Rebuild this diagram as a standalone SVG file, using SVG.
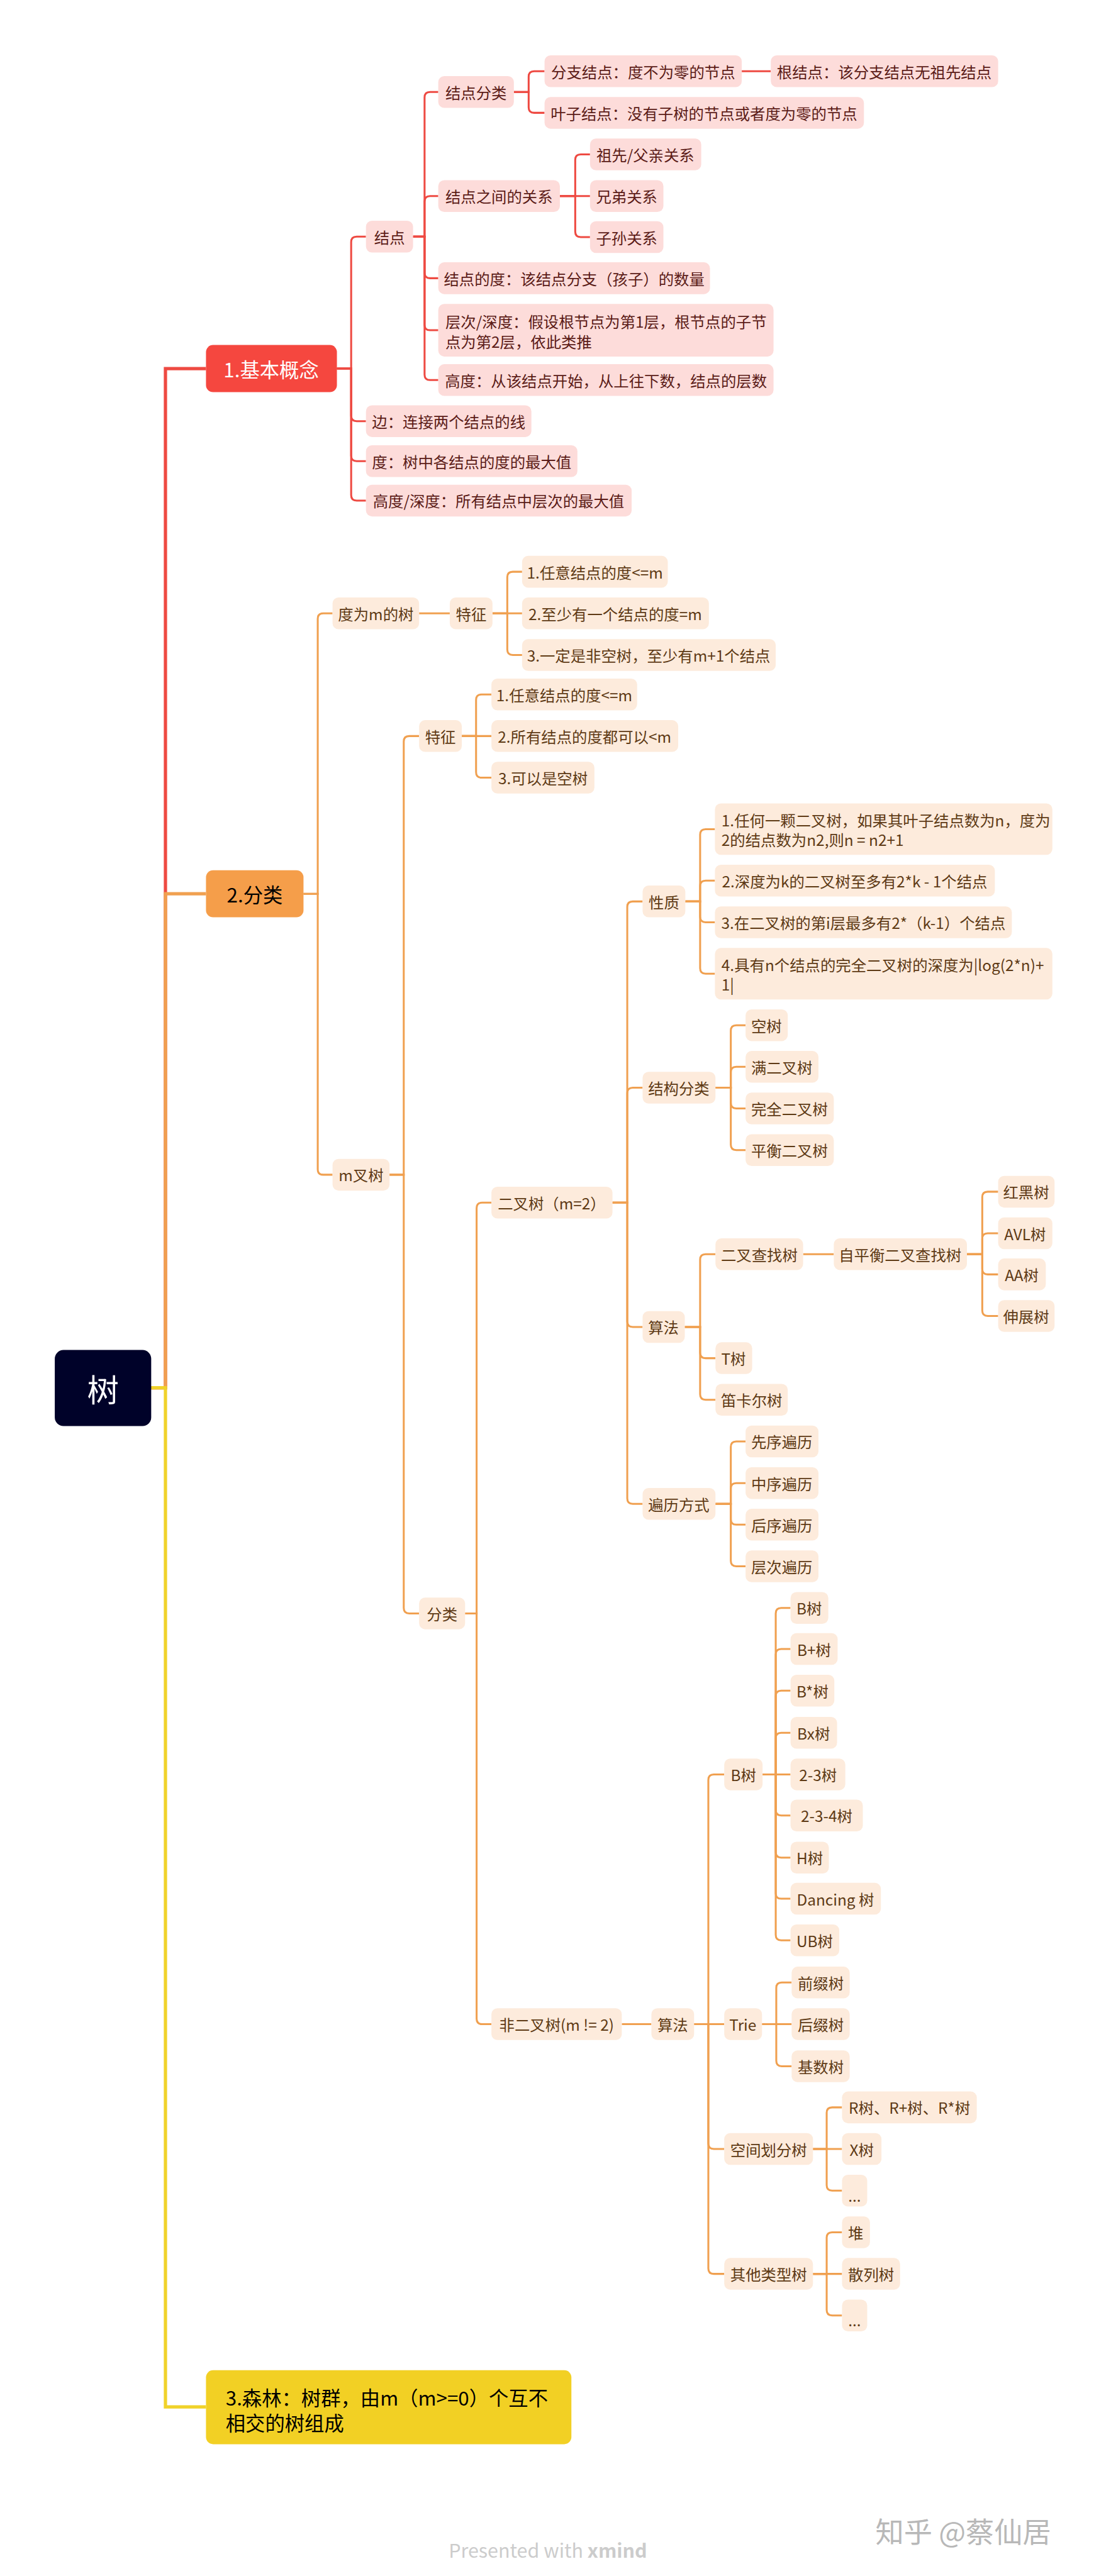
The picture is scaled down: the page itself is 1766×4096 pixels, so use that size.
<svg xmlns="http://www.w3.org/2000/svg" width="1766" height="4096" viewBox="0 0 1766 4096">
<style>
text{font-family:"Noto Sans CJK SC","Noto Sans",sans-serif;dominant-baseline:central}
.rn rect{fill:#FDDCDA}
.rn text{fill:#5B1B17;font-size:28px;text-anchor:middle}
.on rect{fill:#FDEBDC}
.on text{fill:#5E3A15;font-size:28px;text-anchor:middle}
.ml text{text-anchor:start}
.l1 text{font-size:36px;text-anchor:middle}
.cr path{stroke:#EE4A42;stroke-width:3.5;fill:none}
.co path{stroke:#F0A050;stroke-width:3.5;fill:none}
.trunk path{stroke-width:6;fill:none}
</style>
<rect x="0" y="0" width="1766" height="4096" fill="#FFFFFF"/>
<g transform="scale(0.87081)">
<g id="connectors">
<g class="trunk">
<path d="M276,2534 H302 V673 H376" stroke="#EE4A42"/>
<path d="M276,2534 H302 V1632 H376" stroke="#F0A050"/>
<path d="M276,2534 H302 V4395 H376" stroke="#F0D22A"/>
</g>
<g class="cr">
<path d="M615,673 H641 V442 Q641,432 651,432 H668"/>
<path d="M615,673 H641 V759 Q641,769 651,769 H668"/>
<path d="M615,673 H641 V832 Q641,842 651,842 H668"/>
<path d="M615,673 H641 V904 Q641,914 651,914 H668"/>
<path d="M754,432 H775 V178 Q775,168 785,168 H800"/>
<path d="M754,432 H775 V368 Q775,358 785,358 H800"/>
<path d="M754,432 H775 V498 Q775,508 785,508 H800"/>
<path d="M754,432 H775 V593 Q775,603 785,603 H800"/>
<path d="M754,432 H775 V684 Q775,694 785,694 H800"/>
<path d="M938,168 H965 V140 Q965,130 975,130 H994"/>
<path d="M938,168 H965 V196 Q965,206 975,206 H994"/>
<path d="M1354,130 H1407"/>
<path d="M1022,358 H1050 V292 Q1050,282 1060,282 H1077"/>
<path d="M1022,358 H1077"/>
<path d="M1022,358 H1050 V423 Q1050,433 1060,433 H1077"/>
</g>
<g class="co">
<path d="M554,1632 H580 V1130 Q580,1120 590,1120 H607"/>
<path d="M554,1632 H580 V2135 Q580,2145 590,2145 H607"/>
<path d="M765,1120 H821"/>
<path d="M899,1120 H926 V1054 Q926,1044 936,1044 H953"/>
<path d="M899,1120 H953"/>
<path d="M899,1120 H926 V1186 Q926,1196 936,1196 H953"/>
<path d="M711,2145 H737 V1354 Q737,1344 747,1344 H765"/>
<path d="M711,2145 H737 V2936 Q737,2946 747,2946 H765"/>
<path d="M843,1344 H869 V1278 Q869,1268 879,1268 H897"/>
<path d="M843,1344 H897"/>
<path d="M843,1344 H869 V1410 Q869,1420 879,1420 H897"/>
<path d="M849,2946 H870 V2206 Q870,2196 880,2196 H897"/>
<path d="M849,2946 H870 V3686 Q870,3696 880,3696 H897"/>
<path d="M1118,2196 H1145 V1656 Q1145,1646 1155,1646 H1173"/>
<path d="M1118,2196 H1145 V1996 Q1145,1986 1155,1986 H1173"/>
<path d="M1118,2196 H1145 V2413 Q1145,2423 1155,2423 H1173"/>
<path d="M1118,2196 H1145 V2736 Q1145,2746 1155,2746 H1173"/>
<path d="M1251,1646 H1278 V1524 Q1278,1514 1288,1514 H1305"/>
<path d="M1251,1646 H1278 V1618 Q1278,1608 1288,1608 H1305"/>
<path d="M1251,1646 H1278 V1674 Q1278,1684 1288,1684 H1305"/>
<path d="M1251,1646 H1278 V1768 Q1278,1778 1288,1778 H1305"/>
<path d="M1306,1986 H1334 V1882 Q1334,1872 1344,1872 H1361"/>
<path d="M1306,1986 H1334 V1958 Q1334,1948 1344,1948 H1361"/>
<path d="M1306,1986 H1334 V2014 Q1334,2024 1344,2024 H1361"/>
<path d="M1306,1986 H1334 V2090 Q1334,2100 1344,2100 H1361"/>
<path d="M1250,2423 H1278 V2300 Q1278,2290 1288,2290 H1306"/>
<path d="M1250,2423 H1278 V2470 Q1278,2480 1288,2480 H1306"/>
<path d="M1250,2423 H1278 V2546 Q1278,2556 1288,2556 H1306"/>
<path d="M1466,2290 H1522"/>
<path d="M1765,2290 H1793 V2186 Q1793,2176 1803,2176 H1822"/>
<path d="M1765,2290 H1793 V2262 Q1793,2252 1803,2252 H1822"/>
<path d="M1765,2290 H1793 V2317 Q1793,2327 1803,2327 H1822"/>
<path d="M1765,2290 H1793 V2393 Q1793,2403 1803,2403 H1822"/>
<path d="M1306,2746 H1334 V2642 Q1334,2632 1344,2632 H1361"/>
<path d="M1306,2746 H1334 V2718 Q1334,2708 1344,2708 H1361"/>
<path d="M1306,2746 H1334 V2774 Q1334,2784 1344,2784 H1361"/>
<path d="M1306,2746 H1334 V2850 Q1334,2860 1344,2860 H1361"/>
<path d="M1135,3696 H1189"/>
<path d="M1267,3696 H1293 V3250 Q1293,3240 1303,3240 H1322"/>
<path d="M1267,3696 H1322"/>
<path d="M1267,3696 H1293 V3914 Q1293,3924 1303,3924 H1322"/>
<path d="M1267,3696 H1293 V4142 Q1293,4152 1303,4152 H1322"/>
<path d="M1392,3240 H1416 V2946 Q1416,2936 1426,2936 H1443"/>
<path d="M1392,3240 H1416 V3021 Q1416,3011 1426,3011 H1443"/>
<path d="M1392,3240 H1416 V3097 Q1416,3087 1426,3087 H1443"/>
<path d="M1392,3240 H1416 V3174 Q1416,3164 1426,3164 H1443"/>
<path d="M1392,3240 H1443"/>
<path d="M1392,3240 H1416 V3305 Q1416,3315 1426,3315 H1443"/>
<path d="M1392,3240 H1416 V3382 Q1416,3392 1426,3392 H1443"/>
<path d="M1392,3240 H1416 V3457 Q1416,3467 1426,3467 H1443"/>
<path d="M1392,3240 H1416 V3533 Q1416,3543 1426,3543 H1443"/>
<path d="M1391,3696 H1417 V3630 Q1417,3620 1427,3620 H1445"/>
<path d="M1391,3696 H1445"/>
<path d="M1391,3696 H1417 V3763 Q1417,3773 1427,3773 H1445"/>
<path d="M1484,3924 H1509 V3858 Q1509,3848 1519,3848 H1537"/>
<path d="M1484,3924 H1537"/>
<path d="M1484,3924 H1509 V3990 Q1509,4000 1519,4000 H1537"/>
<path d="M1484,4152 H1509 V4086 Q1509,4076 1519,4076 H1537"/>
<path d="M1484,4152 H1537"/>
<path d="M1484,4152 H1509 V4218 Q1509,4228 1519,4228 H1537"/>
</g>
</g>

<g id="root"><rect x="100" y="2465" width="176" height="139" rx="16" fill="#000229"/><text x="188" y="2534" font-size="58" fill="#FFFFFF" text-anchor="middle">树</text></g>

<g id="n-jiben" class="l1"><rect x="376" y="630" width="239" height="86" rx="13" fill="#F5473F"/><text x="495" y="673" fill="#FFFFFF">1.基本概念</text></g>
<g id="n-jiedian" class="rn"><rect x="668" y="403" width="86" height="58" rx="11"/><text x="711" y="432">结点</text></g>
<g id="n-bian" class="rn"><rect x="668" y="740" width="302" height="58" rx="11"/><text x="819" y="769">边：连接两个结点的线</text></g>
<g id="n-du" class="rn"><rect x="668" y="813" width="386" height="58" rx="11"/><text x="861" y="842">度：树中各结点的度的最大值</text></g>
<g id="n-gaodushendu" class="rn"><rect x="668" y="885" width="485" height="58" rx="11"/><text x="910" y="914">高度/深度：所有结点中层次的最大值</text></g>
<g id="n-jdfl" class="rn"><rect x="800" y="139" width="138" height="58" rx="11"/><text x="869" y="168">结点分类</text></g>
<g id="n-jdgx" class="rn"><rect x="800" y="329" width="222" height="58" rx="11"/><text x="911" y="358">结点之间的关系</text></g>
<g id="n-jdd" class="rn"><rect x="800" y="479" width="496" height="58" rx="11"/><text x="1048" y="508">结点的度：该结点分支（孩子）的数量</text></g>
<g id="n-cengci" class="rn ml"><rect x="800" y="555" width="612" height="96" rx="11"/><text x="813" y="586">层次/深度：假设根节点为第1层，根节点的子节</text><text x="813" y="623">点为第2层，依此类推</text></g>
<g id="n-gaodu" class="rn"><rect x="800" y="665" width="612" height="58" rx="11"/><text x="1106" y="694">高度：从该结点开始，从上往下数，结点的层数</text></g>
<g id="n-fenzhi" class="rn"><rect x="994" y="101" width="360" height="58" rx="11"/><text x="1174" y="130">分支结点：度不为零的节点</text></g>
<g id="n-gen" class="rn"><rect x="1407" y="101" width="415" height="58" rx="11"/><text x="1614" y="130">根结点：该分支结点无祖先结点</text></g>
<g id="n-yezi" class="rn"><rect x="994" y="177" width="583" height="58" rx="11"/><text x="1285" y="206">叶子结点：没有子树的节点或者度为零的节点</text></g>
<g id="n-zuxian" class="rn"><rect x="1077" y="253" width="203" height="58" rx="11"/><text x="1178" y="282">祖先/父亲关系</text></g>
<g id="n-xiongdi" class="rn"><rect x="1077" y="329" width="134" height="58" rx="11"/><text x="1144" y="358">兄弟关系</text></g>
<g id="n-zisun" class="rn"><rect x="1077" y="404" width="134" height="58" rx="11"/><text x="1144" y="433">子孙关系</text></g>

<g id="n-fenlei" class="l1"><rect x="376" y="1589" width="178" height="86" rx="13" fill="#F59E4A"/><text x="465" y="1632" fill="#000000">2.分类</text></g>
<g id="n-duwm" class="on"><rect x="607" y="1091" width="158" height="58" rx="11"/><text x="686" y="1120">度为m的树</text></g>
<g id="n-tz1" class="on"><rect x="821" y="1091" width="78" height="58" rx="11"/><text x="860" y="1120">特征</text></g>
<g id="n-tz1a" class="on"><rect x="953" y="1015" width="266" height="58" rx="11"/><text x="1086" y="1044">1.任意结点的度&lt;=m</text></g>
<g id="n-tz1b" class="on"><rect x="953" y="1091" width="341" height="58" rx="11"/><text x="1123" y="1120">2.至少有一个结点的度=m</text></g>
<g id="n-tz1c" class="on"><rect x="953" y="1167" width="463" height="58" rx="11"/><text x="1184" y="1196">3.一定是非空树，至少有m+1个结点</text></g>
<g id="n-mcha" class="on"><rect x="607" y="2116" width="104" height="58" rx="11"/><text x="659" y="2145">m叉树</text></g>
<g id="n-tz2" class="on"><rect x="765" y="1315" width="78" height="58" rx="11"/><text x="804" y="1344">特征</text></g>
<g id="n-tz2a" class="on"><rect x="897" y="1239" width="266" height="58" rx="11"/><text x="1030" y="1268">1.任意结点的度&lt;=m</text></g>
<g id="n-tz2b" class="on"><rect x="897" y="1315" width="341" height="58" rx="11"/><text x="1067" y="1344">2.所有结点的度都可以&lt;m</text></g>
<g id="n-tz2c" class="on"><rect x="897" y="1391" width="188" height="58" rx="11"/><text x="991" y="1420">3.可以是空树</text></g>
<g id="n-fl2" class="on"><rect x="765" y="2917" width="84" height="58" rx="11"/><text x="807" y="2946">分类</text></g>
<g id="n-erchashu" class="on"><rect x="897" y="2167" width="221" height="58" rx="11"/><text x="1007" y="2196">二叉树（m=2）</text></g>
<g id="n-xingzhi" class="on"><rect x="1173" y="1617" width="78" height="58" rx="11"/><text x="1212" y="1646">性质</text></g>
<g id="n-p1" class="on ml"><rect x="1305" y="1467" width="616" height="94" rx="11"/><text x="1317" y="1497">1.任何一颗二叉树，如果其叶子结点数为n，度为</text><text x="1317" y="1533">2的结点数为n2,则n = n2+1</text></g>
<g id="n-p2" class="on"><rect x="1305" y="1579" width="511" height="58" rx="11"/><text x="1560" y="1608">2.深度为k的二叉树至多有2*k - 1个结点</text></g>
<g id="n-p3" class="on"><rect x="1305" y="1655" width="542" height="58" rx="11"/><text x="1576" y="1684">3.在二叉树的第i层最多有2*（k-1）个结点</text></g>
<g id="n-p4" class="on ml"><rect x="1305" y="1731" width="616" height="94" rx="11"/><text x="1317" y="1761">4.具有n个结点的完全二叉树的深度为|log(2*n)+</text><text x="1317" y="1797">1|</text></g>
<g id="n-jgfl" class="on"><rect x="1173" y="1957" width="133" height="58" rx="11"/><text x="1239" y="1986">结构分类</text></g>
<g id="n-kongshu" class="on"><rect x="1361" y="1843" width="77" height="58" rx="11"/><text x="1399" y="1872">空树</text></g>
<g id="n-man" class="on"><rect x="1361" y="1919" width="133" height="58" rx="11"/><text x="1427" y="1948">满二叉树</text></g>
<g id="n-wanquan" class="on"><rect x="1361" y="1995" width="161" height="58" rx="11"/><text x="1441" y="2024">完全二叉树</text></g>
<g id="n-pingheng" class="on"><rect x="1361" y="2071" width="161" height="58" rx="11"/><text x="1441" y="2100">平衡二叉树</text></g>
<g id="n-suanfa1" class="on"><rect x="1173" y="2394" width="77" height="58" rx="11"/><text x="1211" y="2423">算法</text></g>
<g id="n-bst" class="on"><rect x="1306" y="2261" width="160" height="58" rx="11"/><text x="1386" y="2290">二叉查找树</text></g>
<g id="n-zipingheng" class="on"><rect x="1522" y="2261" width="243" height="58" rx="11"/><text x="1643" y="2290">自平衡二叉查找树</text></g>
<g id="n-hongheishu" class="on"><rect x="1822" y="2147" width="103" height="58" rx="11"/><text x="1873" y="2176">红黑树</text></g>
<g id="n-avl" class="on"><rect x="1822" y="2223" width="99" height="58" rx="11"/><text x="1871" y="2252">AVL树</text></g>
<g id="n-aa" class="on"><rect x="1822" y="2298" width="87" height="58" rx="11"/><text x="1865" y="2327">AA树</text></g>
<g id="n-shenzhan" class="on"><rect x="1822" y="2374" width="103" height="58" rx="11"/><text x="1873" y="2403">伸展树</text></g>
<g id="n-tshu" class="on"><rect x="1306" y="2451" width="67" height="58" rx="11"/><text x="1339" y="2480">T树</text></g>
<g id="n-dikaer" class="on"><rect x="1306" y="2527" width="132" height="58" rx="11"/><text x="1372" y="2556">笛卡尔树</text></g>
<g id="n-bianli" class="on"><rect x="1173" y="2717" width="133" height="58" rx="11"/><text x="1239" y="2746">遍历方式</text></g>
<g id="n-xianxu" class="on"><rect x="1361" y="2603" width="133" height="58" rx="11"/><text x="1427" y="2632">先序遍历</text></g>
<g id="n-zhongxu" class="on"><rect x="1361" y="2679" width="133" height="58" rx="11"/><text x="1427" y="2708">中序遍历</text></g>
<g id="n-houxu" class="on"><rect x="1361" y="2755" width="133" height="58" rx="11"/><text x="1427" y="2784">后序遍历</text></g>
<g id="n-cengcibl" class="on"><rect x="1361" y="2831" width="133" height="58" rx="11"/><text x="1427" y="2860">层次遍历</text></g>
<g id="n-feiercha" class="on"><rect x="897" y="3667" width="238" height="58" rx="11"/><text x="1016" y="3696">非二叉树(m != 2)</text></g>
<g id="n-suanfa2" class="on"><rect x="1189" y="3667" width="78" height="58" rx="11"/><text x="1228" y="3696">算法</text></g>
<g id="n-bshu" class="on"><rect x="1322" y="3211" width="70" height="58" rx="11"/><text x="1357" y="3240">B树</text></g>
<g id="n-b1" class="on"><rect x="1443" y="2907" width="69" height="58" rx="11"/><text x="1477" y="2936">B树</text></g>
<g id="n-b2" class="on"><rect x="1443" y="2982" width="86" height="58" rx="11"/><text x="1486" y="3011">B+树</text></g>
<g id="n-b3" class="on"><rect x="1443" y="3058" width="80" height="58" rx="11"/><text x="1483" y="3087">B*树</text></g>
<g id="n-b4" class="on"><rect x="1443" y="3135" width="85" height="58" rx="11"/><text x="1485" y="3164">Bx树</text></g>
<g id="n-b5" class="on"><rect x="1443" y="3211" width="100" height="58" rx="11"/><text x="1493" y="3240">2-3树</text></g>
<g id="n-b6" class="on"><rect x="1443" y="3286" width="132" height="58" rx="11"/><text x="1509" y="3315">2-3-4树</text></g>
<g id="n-b7" class="on"><rect x="1443" y="3363" width="70" height="58" rx="11"/><text x="1478" y="3392">H树</text></g>
<g id="n-b8" class="on"><rect x="1443" y="3438" width="165" height="58" rx="11"/><text x="1525" y="3467">Dancing 树</text></g>
<g id="n-b9" class="on"><rect x="1443" y="3514" width="89" height="58" rx="11"/><text x="1487" y="3543">UB树</text></g>
<g id="n-trie" class="on"><rect x="1322" y="3667" width="69" height="58" rx="11"/><text x="1356" y="3696">Trie</text></g>
<g id="n-qianzhui" class="on"><rect x="1445" y="3591" width="106" height="58" rx="11"/><text x="1498" y="3620">前缀树</text></g>
<g id="n-houzhui" class="on"><rect x="1445" y="3667" width="106" height="58" rx="11"/><text x="1498" y="3696">后缀树</text></g>
<g id="n-jishu" class="on"><rect x="1445" y="3744" width="106" height="58" rx="11"/><text x="1498" y="3773">基数树</text></g>
<g id="n-kongjian" class="on"><rect x="1322" y="3895" width="162" height="58" rx="11"/><text x="1403" y="3924">空间划分树</text></g>
<g id="n-rshu" class="on"><rect x="1537" y="3819" width="246" height="58" rx="11"/><text x="1660" y="3848">R树、R+树、R*树</text></g>
<g id="n-xshu" class="on"><rect x="1537" y="3895" width="72" height="58" rx="11"/><text x="1573" y="3924">X树</text></g>
<g id="n-dots1" class="on"><rect x="1537" y="3971" width="46" height="58" rx="11"/><text x="1560" y="4008">...</text></g>
<g id="n-qita" class="on"><rect x="1322" y="4123" width="162" height="58" rx="11"/><text x="1403" y="4152">其他类型树</text></g>
<g id="n-dui" class="on"><rect x="1537" y="4047" width="51" height="58" rx="11"/><text x="1562" y="4076">堆</text></g>
<g id="n-sanlie" class="on"><rect x="1537" y="4123" width="106" height="58" rx="11"/><text x="1590" y="4152">散列树</text></g>
<g id="n-dots2" class="on"><rect x="1537" y="4199" width="46" height="58" rx="11"/><text x="1560" y="4236">...</text></g>

<g id="n-senlin"><rect x="376" y="4328" width="667" height="135" rx="13" fill="#F2D024"/><text x="412" y="4377" font-size="36" fill="#000000">3.森林：树群，由m（m&gt;=0）个互不</text><text x="412" y="4423" font-size="36" fill="#000000">相交的树组成</text></g>

<g id="footer">
<text x="819" y="4655" font-size="35" fill="#CCCCCC" font-family="'Open Sans',sans-serif">Presented with <tspan font-weight="bold">xmind</tspan></text>
<text x="1598" y="4620" font-size="52" fill="#B8B8B8">知乎 @蔡仙居</text>
</g>
</g>
</svg>
